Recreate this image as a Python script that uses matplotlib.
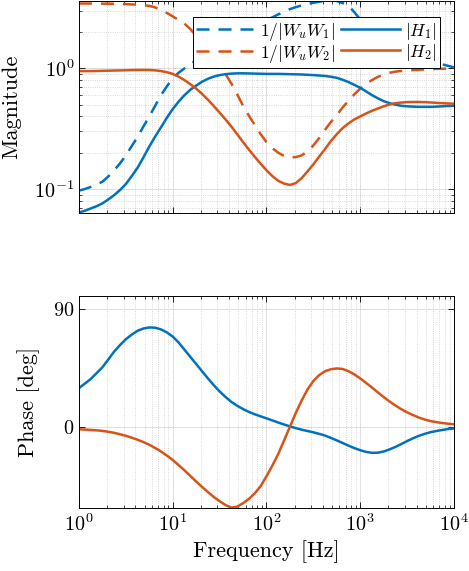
import numpy as np
import matplotlib
matplotlib.use('Agg')
import matplotlib.pyplot as plt
from matplotlib.ticker import LogLocator, NullFormatter

plt.rcParams['font.family'] = 'cmr10'
plt.rcParams['mathtext.fontset'] = 'cm'
plt.rcParams['axes.formatter.use_mathtext'] = True
plt.rcParams['axes.unicode_minus'] = False

# Frequency sample points [Hz]: 1 Hz to 10 kHz, 16 points per decade
freqs = np.logspace(0, 4, 65)

# Magnitudes
inv_wu_w1 = [0.097, 0.100, 0.104, 0.109, 0.115, 0.127, 0.143, 0.163,
             0.19, 0.227, 0.27, 0.33, 0.40, 0.49, 0.60, 0.71,
             0.83, 0.92, 1.0, 1.08, 1.17, 1.27, 1.37, 1.47,
             1.57, 1.67, 1.78, 1.89, 2.0, 2.12, 2.25, 2.37,
             2.5, 2.65, 2.8, 2.95, 3.1, 3.22, 3.33, 3.42,
             3.5, 3.57, 3.63, 3.66, 3.62, 3.48, 3.3, 2.92,
             2.55, 2.25, 2.02, 1.84, 1.70, 1.58, 1.48, 1.39,
             1.32, 1.26, 1.21, 1.17, 1.14, 1.11, 1.08, 1.05,
             1.02]
inv_wu_w2 = [3.45, 3.45, 3.45, 3.45, 3.44, 3.44, 3.43, 3.42,
             3.41, 3.39, 3.37, 3.34, 3.3, 3.2, 3.05, 2.88,
             2.7, 2.52, 2.35, 2.12, 1.85, 1.64, 1.45, 1.26,
             1.08, 0.9, 0.75, 0.61, 0.49, 0.405, 0.34, 0.285,
             0.245, 0.218, 0.2, 0.188, 0.183, 0.184, 0.19, 0.205,
             0.23, 0.265, 0.31, 0.36, 0.41, 0.475, 0.54, 0.61,
             0.68, 0.745, 0.8, 0.85, 0.89, 0.92, 0.94, 0.952,
             0.96, 0.968, 0.975, 0.98, 0.985, 0.99, 0.993, 0.997,
             1.0]
h1_mag = [0.064, 0.066, 0.069, 0.072, 0.076, 0.082, 0.089, 0.098,
          0.110, 0.128, 0.150, 0.183, 0.225, 0.272, 0.325, 0.39,
          0.46, 0.53, 0.60, 0.665, 0.72, 0.775, 0.82, 0.855,
          0.88, 0.895, 0.905, 0.91, 0.91, 0.908, 0.905, 0.903,
          0.90, 0.90, 0.90, 0.898, 0.895, 0.893, 0.89, 0.885,
          0.88, 0.873, 0.865, 0.853, 0.835, 0.805, 0.77, 0.73,
          0.69, 0.645, 0.60, 0.565, 0.535, 0.515, 0.50, 0.49,
          0.485, 0.482, 0.48, 0.48, 0.48, 0.482, 0.485, 0.488,
          0.49]
h2_mag = [0.95, 0.95, 0.95, 0.952, 0.955, 0.957, 0.96, 0.962,
          0.965, 0.968, 0.97, 0.971, 0.97, 0.963, 0.95, 0.93,
          0.90, 0.855, 0.80, 0.74, 0.68, 0.615, 0.55, 0.488,
          0.43, 0.378, 0.33, 0.285, 0.245, 0.212, 0.185, 0.162,
          0.143, 0.128, 0.117, 0.111, 0.108, 0.112, 0.123, 0.14,
          0.16, 0.186, 0.215, 0.25, 0.285, 0.32, 0.35, 0.378,
          0.40, 0.423, 0.445, 0.465, 0.485, 0.502, 0.515, 0.521,
          0.525, 0.527, 0.527, 0.525, 0.522, 0.518, 0.515, 0.512,
          0.51]

# Phases [deg]
h1_phase = [29.5, 33, 36.5, 41, 45.5, 51.5, 57.5, 62.5,
            67, 70.5, 73.5, 75.2, 76, 75.8, 74.5, 72.2,
            69, 64.5, 59, 53.5, 48, 42.5, 37, 31.8,
            27, 22.8, 19, 16, 13.5, 11.3, 9.5, 7.9,
            6.4, 4.8, 3.2, 1.7, 0.2, -1.1, -2.3, -3.3,
            -4.3, -5.5, -6.8, -8.6, -10.5, -12.5, -14.5, -16.4,
            -18, -19.3, -20, -19.9, -19, -17.4, -15.5, -13.3,
            -11, -8.9, -7, -5.5, -4.2, -3.3, -2.5, -1.8,
            -1.3]
h2_phase = [-2, -2.2, -2.5, -2.8, -3.2, -3.9, -4.7, -5.8,
            -7, -8.4, -10, -11.8, -13.8, -16.3, -19, -22.1,
            -25.5, -29.4, -33.4, -37.7, -42, -46.1, -50, -53.8,
            -57, -60, -62, -61.2, -58.6, -55.3, -51, -45.5,
            -38, -29.8, -21, -10.6, 0, 10.5, 20, 28.5,
            35, 39.5, 42.5, 44, 44.6, 44.2, 42.5, 40,
            37, 33.5, 30, 26.3, 22.7, 19.3, 16.2, 13.4,
            11, 8.9, 7, 5.5, 4.3, 3.5, 2.8, 2.3,
            1.8]

c_blue = '#0072BD'
c_orange = '#D95319'
lw = 1.8
dash = (0, (5.2, 3.6))

fig = plt.figure(figsize=(4.69, 5.71), dpi=100)
ax1 = fig.add_axes([0.1684, 0.627, 0.7996, 0.371])
ax2 = fig.add_axes([0.1684, 0.1098, 0.7996, 0.3723])

ax1.plot(freqs, inv_wu_w1, color=c_blue, lw=lw, linestyle=dash, label=r'$1/|W_uW_1|$')
ax1.plot(freqs, inv_wu_w2, color=c_orange, lw=lw, linestyle=dash, label=r'$1/|W_uW_2|$')
ax1.plot(freqs, h1_mag, color=c_blue, lw=lw, label=r'$|H_1|$')
ax1.plot(freqs, h2_mag, color=c_orange, lw=lw, label=r'$|H_2|$')
ax1.set_xscale('log')
ax1.set_yscale('log')
ax1.set_xlim(1, 1e4)
ax1.set_ylim(0.0633, 3.61)
ax1.set_ylabel('Magnitude', fontsize=16)
ax1.yaxis.set_label_coords(-0.155, 0.5)
ax1.xaxis.set_major_formatter(NullFormatter())
ax1.xaxis.set_minor_formatter(NullFormatter())
ax1.yaxis.set_major_locator(LogLocator(base=10, numticks=10))
ax1.yaxis.set_minor_formatter(NullFormatter())

ax2.plot(freqs, h1_phase, color=c_blue, lw=lw)
ax2.plot(freqs, h2_phase, color=c_orange, lw=lw)
ax2.set_xscale('log')
ax2.set_xlim(1, 1e4)
ax2.set_ylim(-62.5, 100.3)
ax2.set_yticks([0, 90])
ax2.set_ylabel('Phase [deg]', fontsize=16)
ax2.yaxis.set_label_coords(-0.105, 0.5)
ax2.set_xlabel('Frequency [Hz]', fontsize=16)
ax2.xaxis.set_minor_formatter(NullFormatter())

for ax in (ax1, ax2):
    ax.tick_params(which='both', direction='in', top=True, right=True, labelsize=14.5)
    ax.tick_params(which='major', length=4, width=0.6)
    ax.tick_params(which='minor', length=2.2, width=0.5)
    ax.grid(True, which='major', color='#d9d9d9', linestyle='-', linewidth=0.6)
    for s in ax.spines.values():
        s.set_linewidth(0.7)
ax1.grid(True, which='minor', color='#cccccc', linestyle=':', linewidth=0.6)
ax2.grid(True, which='minor', axis='x', color='#cccccc', linestyle=':', linewidth=0.6)

leg = ax1.legend(ncol=2, loc='upper right', bbox_to_anchor=(0.962, 0.925),
                 borderaxespad=0, fontsize=12.5, handlelength=3.4,
                 handletextpad=0.3, columnspacing=0.3, labelspacing=0.0,
                 borderpad=0.2, fancybox=False, framealpha=1, edgecolor='black')
leg.get_frame().set_linewidth(0.7)

fig.savefig('out.png', dpi=100)
